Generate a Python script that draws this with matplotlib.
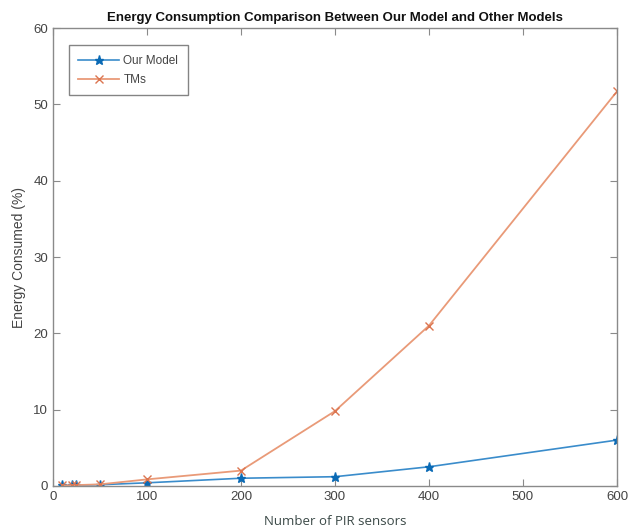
import numpy as np
import matplotlib.pyplot as plt

# data
sensors = [10, 20, 25, 50, 100, 200, 300, 400, 600]
our_model = [0.05, 0.1, 0.1, 0.15, 0.4, 1.0, 1.2, 2.5, 6.0]
tms = [0.05, 0.1, 0.1, 0.2, 0.85, 2.0, 9.8, 21.0, 51.7]

plt.rcParams['font.family'] = ['Liberation Sans', 'DejaVu Sans']

fig = plt.figure(figsize=(6.38, 5.31), dpi=100)
ax = fig.add_axes([0.083, 0.085, 0.884, 0.862])

ax.plot(sensors, our_model, color='#3a8ccb', lw=1.2, marker='*', ms=6.5,
        mec='#0a6ab5', mfc='#0a6ab5', label='Our Model')
ax.plot(sensors, tms, color='#e99a78', lw=1.3, marker='x', ms=6,
        mec='#dc7550', label='TMs')

ax.set_xlim(0, 600)
ax.set_ylim(0, 60)
ax.set_xticks([0, 100, 200, 300, 400, 500, 600])
ax.set_yticks([0, 10, 20, 30, 40, 50, 60])

for sp in ax.spines.values():
    sp.set_color('#8a8a8a')
    sp.set_linewidth(1.0)
ax.tick_params(direction='in', top=True, right=True, length=5,
               colors='#8a8a8a', labelcolor='#444444', labelsize=9.5)

ax.set_title('Energy Consumption Comparison Between Our Model and Other Models',
             fontsize=9.5, fontweight='bold', color='#111111', pad=5)
ax.set_ylabel('Energy Consumed (%)', fontsize=10, color='#444444', labelpad=5)
ax.set_xlabel('Number of PIR sensors', fontsize=9.5, color='#3c4a48',
              family=['Open Sans', 'DejaVu Sans'], labelpad=9)

leg = ax.legend(loc='upper left', bbox_to_anchor=(0.018, 0.975), fontsize=8.5,
                frameon=True, fancybox=False, edgecolor='#666666',
                handlelength=3.4, borderpad=0.8, labelspacing=0.6,
                handletextpad=0.4)
leg.get_frame().set_linewidth(1.0)
for t in leg.get_texts():
    t.set_color('#444444')

fig.savefig('out.png', dpi=100)
